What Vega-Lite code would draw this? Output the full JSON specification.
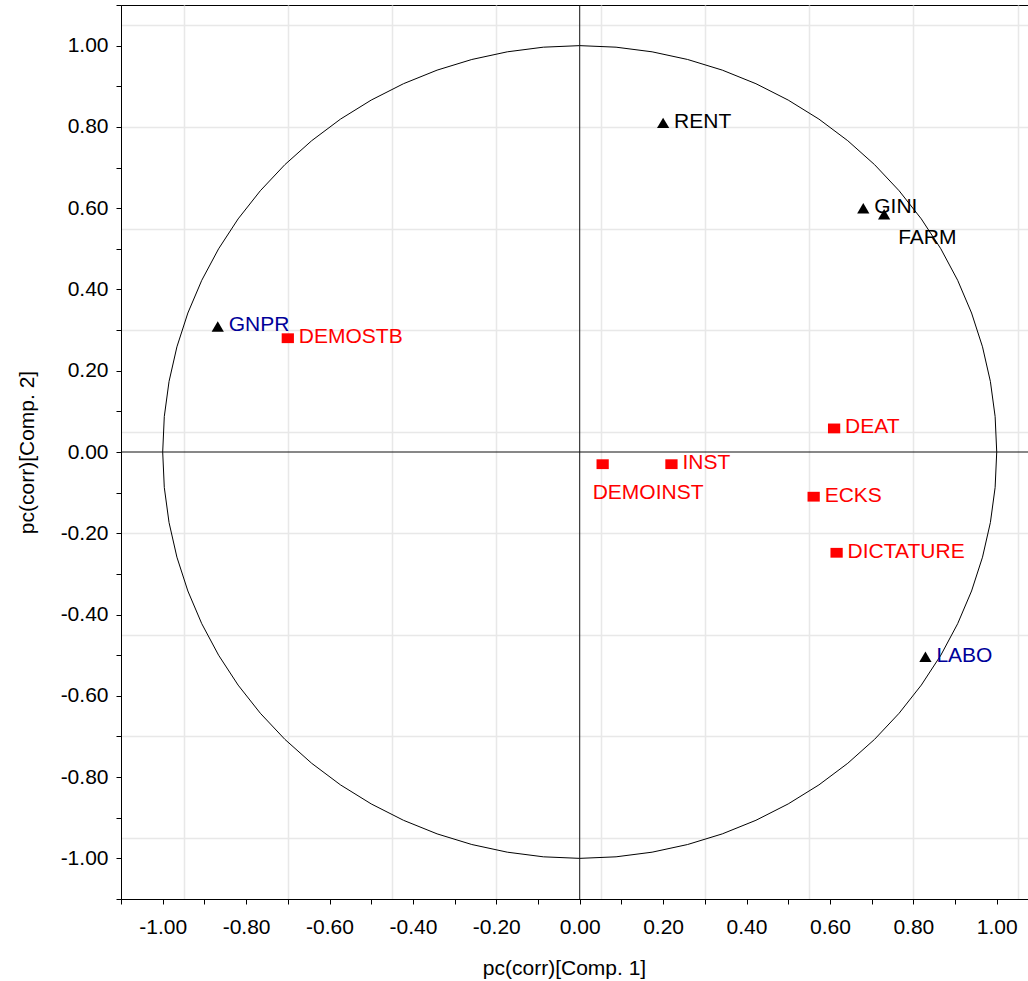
{
  "$schema": "https://vega.github.io/schema/vega-lite/v6.json",
  "width": 907,
  "height": 894,
  "autosize": {"type": "none"},
  "padding": {"left": 121, "top": 5, "right": 0, "bottom": 82},
  "background": "white",
  "config": {
    "view": {"stroke": "black", "strokeWidth": 1},
    "axis": {
      "labelFont": "Liberation Sans",
      "labelFontSize": 21,
      "labelColor": "black",
      "titleFont": "Liberation Sans",
      "titleFontSize": 21,
      "titleFontWeight": "normal",
      "titleColor": "black",
      "domainColor": "black",
      "tickColor": "black",
      "tickSize": 5,
      "gridColor": "#e8e8e8",
      "gridWidth": 1.5
    }
  },
  "datasets": {
    "circle": [
      {"i":0,"cx":1.0,"cy":0.0},{"i":1,"cx":0.9962,"cy":0.0872},{"i":2,"cx":0.9848,"cy":0.1736},{"i":3,"cx":0.9659,"cy":0.2588},
      {"i":4,"cx":0.9397,"cy":0.342},{"i":5,"cx":0.9063,"cy":0.4226},{"i":6,"cx":0.866,"cy":0.5},{"i":7,"cx":0.8192,"cy":0.5736},
      {"i":8,"cx":0.766,"cy":0.6428},{"i":9,"cx":0.7071,"cy":0.7071},{"i":10,"cx":0.6428,"cy":0.766},{"i":11,"cx":0.5736,"cy":0.8192},
      {"i":12,"cx":0.5,"cy":0.866},{"i":13,"cx":0.4226,"cy":0.9063},{"i":14,"cx":0.342,"cy":0.9397},{"i":15,"cx":0.2588,"cy":0.9659},
      {"i":16,"cx":0.1736,"cy":0.9848},{"i":17,"cx":0.0872,"cy":0.9962},{"i":18,"cx":0.0,"cy":1.0},{"i":19,"cx":-0.0872,"cy":0.9962},
      {"i":20,"cx":-0.1736,"cy":0.9848},{"i":21,"cx":-0.2588,"cy":0.9659},{"i":22,"cx":-0.342,"cy":0.9397},{"i":23,"cx":-0.4226,"cy":0.9063},
      {"i":24,"cx":-0.5,"cy":0.866},{"i":25,"cx":-0.5736,"cy":0.8192},{"i":26,"cx":-0.6428,"cy":0.766},{"i":27,"cx":-0.7071,"cy":0.7071},
      {"i":28,"cx":-0.766,"cy":0.6428},{"i":29,"cx":-0.8192,"cy":0.5736},{"i":30,"cx":-0.866,"cy":0.5},{"i":31,"cx":-0.9063,"cy":0.4226},
      {"i":32,"cx":-0.9397,"cy":0.342},{"i":33,"cx":-0.9659,"cy":0.2588},{"i":34,"cx":-0.9848,"cy":0.1736},{"i":35,"cx":-0.9962,"cy":0.0872},
      {"i":36,"cx":-1.0,"cy":0.0},{"i":37,"cx":-0.9962,"cy":-0.0872},{"i":38,"cx":-0.9848,"cy":-0.1736},{"i":39,"cx":-0.9659,"cy":-0.2588},
      {"i":40,"cx":-0.9397,"cy":-0.342},{"i":41,"cx":-0.9063,"cy":-0.4226},{"i":42,"cx":-0.866,"cy":-0.5},{"i":43,"cx":-0.8192,"cy":-0.5736},
      {"i":44,"cx":-0.766,"cy":-0.6428},{"i":45,"cx":-0.7071,"cy":-0.7071},{"i":46,"cx":-0.6428,"cy":-0.766},{"i":47,"cx":-0.5736,"cy":-0.8192},
      {"i":48,"cx":-0.5,"cy":-0.866},{"i":49,"cx":-0.4226,"cy":-0.9063},{"i":50,"cx":-0.342,"cy":-0.9397},{"i":51,"cx":-0.2588,"cy":-0.9659},
      {"i":52,"cx":-0.1736,"cy":-0.9848},{"i":53,"cx":-0.0872,"cy":-0.9962},{"i":54,"cx":0.0,"cy":-1.0},{"i":55,"cx":0.0872,"cy":-0.9962},
      {"i":56,"cx":0.1736,"cy":-0.9848},{"i":57,"cx":0.2588,"cy":-0.9659},{"i":58,"cx":0.342,"cy":-0.9397},{"i":59,"cx":0.4226,"cy":-0.9063},
      {"i":60,"cx":0.5,"cy":-0.866},{"i":61,"cx":0.5736,"cy":-0.8192},{"i":62,"cx":0.6428,"cy":-0.766},{"i":63,"cx":0.7071,"cy":-0.7071},
      {"i":64,"cx":0.766,"cy":-0.6428},{"i":65,"cx":0.8192,"cy":-0.5736},{"i":66,"cx":0.866,"cy":-0.5},{"i":67,"cx":0.9063,"cy":-0.4226},
      {"i":68,"cx":0.9397,"cy":-0.342},{"i":69,"cx":0.9659,"cy":-0.2588},{"i":70,"cx":0.9848,"cy":-0.1736},{"i":71,"cx":0.9962,"cy":-0.0872},
      {"i":72,"cx":1.0,"cy":0.0}
    ],
    "loadings": [
      {"name":"RENT","x":0.20,"y":0.81,"group":"X1"},
      {"name":"GINI","x":0.68,"y":0.60,"group":"X1"},
      {"name":"FARM","x":0.73,"y":0.585,"group":"X1"},
      {"name":"GNPR","x":-0.868,"y":0.309,"group":"X2"},
      {"name":"LABO","x":0.829,"y":-0.504,"group":"X2"},
      {"name":"DEMOSTB","x":-0.70,"y":0.28,"group":"Y"},
      {"name":"DEAT","x":0.61,"y":0.058,"group":"Y"},
      {"name":"DEMOINST","x":0.055,"y":-0.03,"group":"Y"},
      {"name":"INST","x":0.22,"y":-0.03,"group":"Y"},
      {"name":"ECKS","x":0.561,"y":-0.11,"group":"Y"},
      {"name":"DICTATURE","x":0.616,"y":-0.248,"group":"Y"}
    ]
  },
  "resolve": {"axis": {"x": "independent", "y": "independent"}},
  "layer": [
    {
      "data": {"name": "circle"},
      "mark": {"type": "line", "stroke": "black", "strokeWidth": 1, "interpolate": "linear"},
      "encoding": {
        "x": {"field": "cx", "type": "quantitative",
              "scale": {"domain": [-1.1, 1.075], "nice": false, "zero": false},
              "axis": {"orient": "bottom", "values": [-0.95, -0.7, -0.45, -0.2, 0.05, 0.3, 0.55, 0.8, 1.05],
                       "grid": true, "labels": false, "ticks": false, "domain": false, "title": null}},
        "y": {"field": "cy", "type": "quantitative",
              "scale": {"domain": [-1.1, 1.1], "nice": false, "zero": false},
              "axis": {"orient": "left", "values": [-0.95, -0.7, -0.45, -0.2, 0.05, 0.3, 0.55, 0.8, 1.05],
                       "grid": true, "labels": false, "ticks": false, "domain": false, "title": null}},
        "order": {"field": "i", "type": "quantitative"}
      }
    },
    {
      "data": {"values": [{}]},
      "mark": {"type": "rule", "stroke": "#111111", "strokeWidth": 1},
      "encoding": {"x": {"datum": 0, "type": "quantitative", "axis": null}}
    },
    {
      "data": {"values": [{}]},
      "mark": {"type": "rule", "stroke": "#111111", "strokeWidth": 1},
      "encoding": {"y": {"datum": 0, "type": "quantitative", "axis": null}}
    },
    {
      "data": {"name": "loadings"},
      "mark": {"type": "point", "filled": true, "opacity": 1, "size": 150, "strokeWidth": 0},
      "encoding": {
        "x": {"field": "x", "type": "quantitative",
              "axis": {"orient": "bottom", "grid": false,
                       "values": [-1.1, -1.0, -0.9, -0.8, -0.7, -0.6, -0.5, -0.4, -0.3, -0.2, -0.1, 0, 0.1, 0.2, 0.3, 0.4, 0.5, 0.6, 0.7, 0.8, 0.9, 1.0],
                       "labelExpr": "abs(round(datum.value*10)) % 2 == 0 ? (datum.value < -0.001 ? '-' : '') + format(abs(datum.value), '.2f') : ''",
                       "labelPadding": 12, "labelFlush": false, "labelOverlap": false,
                       "title": "pc(corr)[Comp. 1]", "titleX": 443, "titleY": 75, "titleBaseline": "alphabetic", "titleAlign": "center"}},
        "y": {"field": "y", "type": "quantitative",
              "axis": {"orient": "left", "grid": false,
                       "values": [-1.1, -1.0, -0.9, -0.8, -0.7, -0.6, -0.5, -0.4, -0.3, -0.2, -0.1, 0, 0.1, 0.2, 0.3, 0.4, 0.5, 0.6, 0.7, 0.8, 0.9, 1.0, 1.1],
                       "labelExpr": "abs(round(datum.value*10)) % 2 == 0 ? (datum.value < -0.001 ? '-' : '') + format(abs(datum.value), '.2f') : ''",
                       "labelPadding": 8, "labelFlush": false, "labelOverlap": false,
                       "title": "pc(corr)[Comp. 2]", "titleX": -88, "titleY": 447, "titleAngle": -90, "titleBaseline": "alphabetic", "titleAlign": "center"}},
        "shape": {"field": "group", "type": "nominal", "legend": null,
                  "scale": {"domain": ["X1", "X2", "Y"], "range": ["M0,-0.85L1,0.85L-1,0.85Z", "M0,-0.85L1,0.85L-1,0.85Z", "M-1,-0.8L1,-0.8L1,0.8L-1,0.8Z"]}},
        "fill": {"field": "group", "type": "nominal", "legend": null,
                 "scale": {"domain": ["X1", "X2", "Y"], "range": ["black", "black", "#ff0000"]}}
      }
    },
    {
      "data": {"name": "loadings"},
      "transform": [{"filter": "datum.name != 'FARM' && datum.name != 'DEMOINST'"}],
      "mark": {"type": "text", "align": "left", "baseline": "middle", "dx": 11, "dy": -1, "font": "Liberation Sans", "fontSize": 21},
      "encoding": {
        "x": {"field": "x", "type": "quantitative", "axis": null},
        "y": {"field": "y", "type": "quantitative", "axis": null},
        "text": {"field": "name"},
        "color": {"field": "group", "type": "nominal", "legend": null,
                  "scale": {"domain": ["X1", "X2", "Y"], "range": ["black", "#000099", "#ff0000"]}}
      }
    },
    {
      "data": {"name": "loadings"},
      "transform": [{"filter": "datum.name == 'FARM'"}],
      "mark": {"type": "text", "align": "left", "baseline": "middle", "dx": 14, "dy": 24, "font": "Liberation Sans", "fontSize": 21},
      "encoding": {
        "x": {"field": "x", "type": "quantitative", "axis": null},
        "y": {"field": "y", "type": "quantitative", "axis": null},
        "text": {"field": "name"},
        "color": {"field": "group", "type": "nominal", "legend": null}
      }
    },
    {
      "data": {"name": "loadings"},
      "transform": [{"filter": "datum.name == 'DEMOINST'"}],
      "mark": {"type": "text", "align": "left", "baseline": "middle", "dx": -10, "dy": 29, "font": "Liberation Sans", "fontSize": 21},
      "encoding": {
        "x": {"field": "x", "type": "quantitative", "axis": null},
        "y": {"field": "y", "type": "quantitative", "axis": null},
        "text": {"field": "name"},
        "color": {"field": "group", "type": "nominal", "legend": null}
      }
    }
  ]
}
